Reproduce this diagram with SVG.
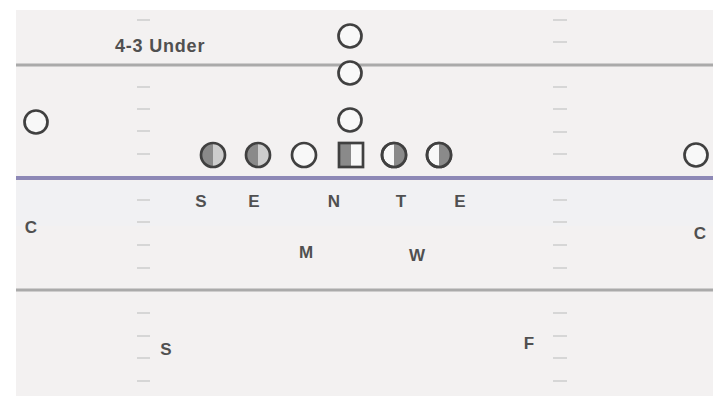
<svg xmlns="http://www.w3.org/2000/svg" width="713" height="396" viewBox="0 0 713 396">
<style>
.lbl{font-family:"Liberation Sans",Arial,sans-serif;font-weight:bold;font-size:17px;fill:#505050;text-anchor:middle}
.title{font-family:"Liberation Sans",Arial,sans-serif;font-weight:bold;font-size:18px;letter-spacing:0.8px;fill:#505050}
.pl{fill:#f8f8f8;stroke:#404040;stroke-width:2.7}
.ol{fill:none;stroke:#404040;stroke-width:2.7}
.half{fill:#8a8a8a}
.lite{fill:#cdcdcd}
.hash{stroke:#d6d6d6;stroke-width:2}
.yd{stroke:#aaaaaa;stroke-width:3}
</style>
<rect x="0" y="0" width="713" height="396" fill="#ffffff"/>
<g id="field">
<rect x="16" y="10" width="697" height="386" fill="#f3f1f1"/>
<rect x="16" y="181" width="697" height="45" fill="#f1f1f3"/>
<line class="yd" x1="16" y1="65" x2="713" y2="65"/>
<line class="yd" x1="16" y1="290" x2="713" y2="290"/>
<line x1="16" y1="178" x2="713" y2="178" stroke="#8d88b6" stroke-width="4"/>
<g id="hash-left">
<line class="hash" x1="137" y1="20" x2="150" y2="20"/>
<line class="hash" x1="137" y1="87" x2="150" y2="87"/>
<line class="hash" x1="137" y1="109" x2="150" y2="109"/>
<line class="hash" x1="137" y1="131" x2="150" y2="131"/>
<line class="hash" x1="137" y1="154" x2="150" y2="154"/>
<line class="hash" x1="137" y1="200" x2="150" y2="200"/>
<line class="hash" x1="137" y1="222" x2="150" y2="222"/>
<line class="hash" x1="137" y1="245" x2="150" y2="245"/>
<line class="hash" x1="137" y1="268" x2="150" y2="268"/>
<line class="hash" x1="137" y1="313" x2="150" y2="313"/>
<line class="hash" x1="137" y1="336" x2="150" y2="336"/>
<line class="hash" x1="137" y1="358" x2="150" y2="358"/>
<line class="hash" x1="137" y1="381" x2="150" y2="381"/>
</g>
<g id="hash-right">
<line class="hash" x1="553" y1="20" x2="567" y2="20"/>
<line class="hash" x1="553" y1="42" x2="567" y2="42"/>
<line class="hash" x1="553" y1="87" x2="567" y2="87"/>
<line class="hash" x1="553" y1="109" x2="567" y2="109"/>
<line class="hash" x1="553" y1="132" x2="567" y2="132"/>
<line class="hash" x1="553" y1="154" x2="567" y2="154"/>
<line class="hash" x1="553" y1="200" x2="567" y2="200"/>
<line class="hash" x1="553" y1="222" x2="567" y2="222"/>
<line class="hash" x1="553" y1="245" x2="567" y2="245"/>
<line class="hash" x1="553" y1="268" x2="567" y2="268"/>
<line class="hash" x1="553" y1="313" x2="567" y2="313"/>
<line class="hash" x1="553" y1="336" x2="567" y2="336"/>
<line class="hash" x1="553" y1="358" x2="567" y2="358"/>
<line class="hash" x1="553" y1="381" x2="567" y2="381"/>
</g>
</g>
<text class="title" x="115" y="52">4-3 Under</text>
<g id="offense">
<g id="qb"><circle class="pl" cx="350" cy="36" r="11.5"/></g>
<g id="fb"><circle class="pl" cx="350" cy="73" r="11.5"/></g>
<g id="hb"><circle class="pl" cx="350" cy="120" r="11.5"/></g>
<g id="wr-left"><circle class="pl" cx="36" cy="122" r="11.5"/></g>
<g id="wr-right"><circle class="pl" cx="696" cy="155" r="11.5"/></g>
<g id="lt">
<circle class="lite" cx="213" cy="155" r="12"/>
<path class="half" d="M213 143 A12 12 0 0 0 213 167 Z"/>
<circle class="ol" cx="213" cy="155" r="12"/>
</g>
<g id="lg">
<circle class="lite" cx="258" cy="155" r="12"/>
<path class="half" d="M258 143 A12 12 0 0 0 258 167 Z"/>
<circle class="ol" cx="258" cy="155" r="12"/>
</g>
<g id="c-open"><circle class="pl" cx="304" cy="155" r="12"/></g>
<g id="center">
<rect x="339" y="143" width="24" height="24" fill="#f8f8f8"/>
<rect class="half" x="339" y="143" width="12" height="24"/>
<rect class="ol" x="339" y="143" width="24" height="24"/>
</g>
<g id="rg">
<circle class="pl" cx="394" cy="155" r="12"/>
<path class="half" d="M394 143 A12 12 0 0 1 394 167 Z"/>
<circle class="ol" cx="394" cy="155" r="12"/>
</g>
<g id="te">
<circle class="pl" cx="439" cy="155" r="12"/>
<path class="half" d="M439 143 A12 12 0 0 1 439 167 Z"/>
<circle class="ol" cx="439" cy="155" r="12"/>
</g>
</g>
<g id="defense">
<g id="d-s"><text class="lbl" x="201" y="207">S</text></g>
<g id="d-e1"><text class="lbl" x="254" y="207">E</text></g>
<g id="d-n"><text class="lbl" x="334" y="207">N</text></g>
<g id="d-t"><text class="lbl" x="401" y="207">T</text></g>
<g id="d-e2"><text class="lbl" x="460" y="207">E</text></g>
<g id="d-c1"><text class="lbl" x="31" y="233">C</text></g>
<g id="d-c2"><text class="lbl" x="700" y="239">C</text></g>
<g id="d-m"><text class="lbl" x="306" y="258">M</text></g>
<g id="d-w"><text class="lbl" x="417" y="261">W</text></g>
<g id="d-ss"><text class="lbl" x="166" y="355">S</text></g>
<g id="d-f"><text class="lbl" x="529" y="349">F</text></g>
</g>
<g id="connectors"/>
</svg>
